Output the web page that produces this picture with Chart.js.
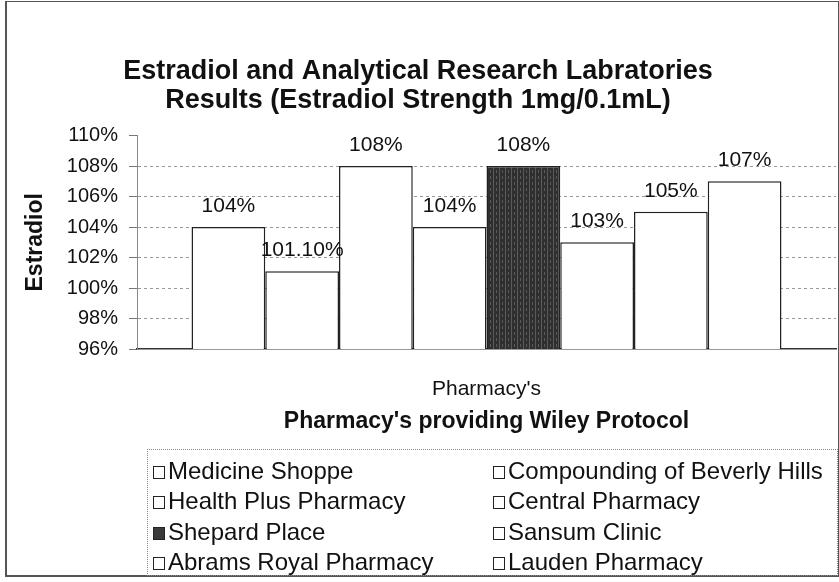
<!DOCTYPE html>
<html>
<head>
<meta charset="utf-8">
<script src="https://cdn.jsdelivr.net/npm/chart.js@4.4.0/dist/chart.umd.min.js"></script>
<style>
  body { margin: 0; background: #fff; }
  #wrap { position: relative; width: 839px; height: 582px; font-family: "Liberation Sans", Arial, sans-serif; }
  #frame { position: absolute; left: 5px; top: 1px; width: 831px; height: 573px; border: 1px solid #555; border-left-width: 2px; border-bottom-width: 2px; }
  #chart { position: absolute; left: 0; top: 0; }
  #legend {
    position: absolute; left: 147px; top: 449px; width: 689px; height: 119px;
    border: 1px dotted #888; display: grid; grid-template-columns: 340px auto;
    padding-top: 6px; box-sizing: content-box;
  }
  .item { height: 30.4px; line-height: 30.4px; font-size: 24px; color: #111; white-space: nowrap; padding-left: 5px; }
  .box { display: inline-block; width: 10px; height: 11px; border: 1.5px solid #222; margin-right: 3px; vertical-align: 0px; }
</style>
</head>
<body>
<div id="wrap">
  <div id="frame"></div>
  <canvas id="chart" width="839" height="582"></canvas>
  <div id="legend"></div>
</div>
<script>
// DATA
const pharmacies = ['Medicine Shoppe', 'Compounding of Beverly Hills', 'Health Plus Pharmacy', 'Central Pharmacy',
                    'Shepard Place', 'Sansum Clinic', 'Abrams Royal Pharmacy', 'Lauden Pharmacy'];
const strengths = [104, 101.1, 108, 104, 108, 103, 105, 107];
const category = ["Pharmacy's"];
const yTicks = [96, 98, 100, 102, 104, 106, 108, 110];
const highlighted = 'Shepard Place';

const FONT = '"Liberation Sans", Arial, sans-serif';

// dark textured fill for the highlighted bar
const makePattern = () => {
    const c = document.createElement('canvas');
    c.width = 6; c.height = 6;
    const g = c.getContext('2d');
    g.fillStyle = '#2f2f2f';
    g.fillRect(0, 0, 6, 6);
    g.fillStyle = '#5a5a5a';
    g.fillRect(1, 0, 1, 6);
    g.fillRect(4, 2, 1, 3);
    return g.createPattern(c, 'repeat');
};
const darkFill = makePattern();

const fmt = v => (Number.isInteger(v) ? v : v.toFixed(2)) + '%';

const valueLabels = {
    id: 'valueLabels',
    afterDatasetsDraw(chart) {
        const ctx = chart.ctx;
        ctx.save();
        ctx.font = '21px ' + FONT;
        ctx.fillStyle = '#111';
        ctx.textAlign = 'center';
        ctx.textBaseline = 'middle';
        chart.data.datasets.forEach((ds, i) => {
            const bar = chart.getDatasetMeta(i).data[0];
            ctx.fillText(fmt(ds.data[0]), bar.x, bar.y - 21);
        });
        ctx.restore();
    }
};

const chart = new Chart(document.getElementById('chart'), {
    type: 'bar',
    data: {
        labels: category,
        datasets: pharmacies.map((name, i) => ({
            label: name,
            data: [strengths[i]],
            backgroundColor: name === highlighted ? darkFill : '#fff',
            borderColor: '#222',
            borderWidth: 1.5,
            borderSkipped: false
        }))
    },
    options: {
        responsive: false,
        animation: false,
        layout: { padding: { top: 0, left: 0, right: 3, bottom: 143 } },
        categoryPercentage: 0.844,
        barPercentage: 1,
        plugins: {
            legend: { display: false },
            tooltip: { enabled: false },
            title: {
                display: true,
                text: ['Estradiol and Analytical Research Labratories', 'Results (Estradiol Strength 1mg/0.1mL)'],
                color: '#111',
                font: { family: FONT, size: 27, weight: 'bold', lineHeight: 1.075 },
                padding: { top: 57.5, bottom: 20 }
            }
        },
        scales: {
            x: {
                afterFit: s => { s.height = 90; },
                grid: { display: false },
                border: { display: true, color: '#333', width: 1.5 },
                ticks: { color: '#111', font: { family: FONT, size: 21 }, padding: 20 },
                title: {
                    display: true,
                    text: "Pharmacy's providing Wiley Protocol",
                    color: '#111',
                    font: { family: FONT, size: 23, weight: 'bold' },
                    padding: { top: 0, bottom: 4 }
                }
            },
            y: {
                min: yTicks[0],
                max: yTicks[yTicks.length - 1],
                afterFit: s => { s.width = 137; },
                afterBuildTicks: s => { s.ticks = yTicks.map(v => ({ value: v })); },
                grid: {
                    color: c => (c.tick && (c.tick.value === 110 || c.tick.value === 96)) ? 'rgba(0,0,0,0)' : '#999',
                    tickColor: '#777',
                    tickLength: 8,
                    drawTicks: true
                },
                border: { display: true, color: '#888', width: 1, dash: [3, 3] },
                ticks: { color: '#111', font: { family: FONT, size: 20 }, padding: 11, callback: v => v + '%' },
                title: {
                    display: true,
                    text: 'Estradiol',
                    color: '#111',
                    font: { family: FONT, size: 23, weight: 'bold' },
                    padding: { top: 22, bottom: 0 }
                }
            }
        }
    },
    plugins: [valueLabels]
});

// two-column legend in the original order
const legend = document.getElementById('legend');
chart.data.datasets.forEach(ds => {
    const item = document.createElement('div');
    item.className = 'item';
    const box = document.createElement('span');
    box.className = 'box';
    box.style.background = ds.label === highlighted ? '#3a3a3a' : '#fff';
    item.appendChild(box);
    item.appendChild(document.createTextNode(ds.label));
    legend.appendChild(item);
});
</script>
</body>
</html>
